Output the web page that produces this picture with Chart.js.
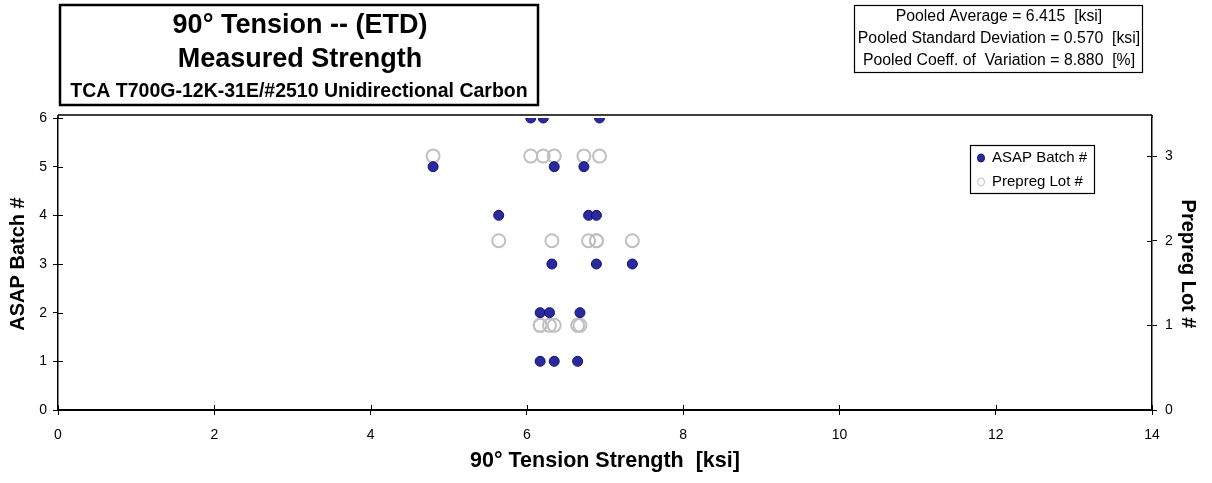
<!DOCTYPE html>
<html>
<head>
<meta charset="utf-8">
<script src="https://cdn.jsdelivr.net/npm/chart.js@4.4.1/dist/chart.umd.min.js"></script>
<style>
    html, body { margin: 0; padding: 0; background: #fff; }
    #wrap { width: 1212px; height: 483px; position: relative; }
</style>
</head>
<body>
<div id="wrap"><canvas id="strengthChart" width="1212" height="483"></canvas></div>
<script>
// ASAP batch data (strength in ksi, batch number)
const batchStrength = [6.17, 6.35, 6.65, 6.17, 6.29, 6.68, 6.32, 6.89, 7.35, 5.64, 6.79, 6.89, 4.80, 6.35, 6.73, 6.05, 6.21, 6.93];
const batchNumber   = [1, 1, 1, 2, 2, 2, 3, 3, 3, 4, 4, 4, 5, 5, 5, 6, 6, 6];

// Prepreg lot data (same specimens, grouped by lot)
const lotStrength = [6.17, 6.35, 6.65, 6.17, 6.29, 6.68, 6.32, 6.89, 7.35, 5.64, 6.79, 6.89, 4.80, 6.35, 6.73, 6.05, 6.21, 6.93];
const lotNumber   = [1, 1, 1, 1, 1, 1, 2, 2, 2, 2, 2, 2, 3, 3, 3, 3, 3, 3];

const xTicks = [0, 2, 4, 6, 8, 10, 12, 14];
const batchTicks = [0, 1, 2, 3, 4, 5, 6];
const lotTicks = [0, 1, 2, 3];

const titleLines = ['90° Tension -- (ETD)', 'Measured Strength', 'TCA T700G-12K-31E/#2510 Unidirectional Carbon'];
const statLines = ['Pooled Average = 6.415  [ksi]', 'Pooled Standard Deviation = 0.570  [ksi]', 'Pooled Coeff. of  Variation = 8.880  [%]'];
const seriesNames = ['ASAP Batch #', 'Prepreg Lot #'];

const FONT = "'Liberation Sans', Arial, sans-serif";
Chart.defaults.font.family = FONT;
Chart.defaults.color = '#000';

const BLUE_FILL = '#2a2a9c';
const BLUE_EDGE = '#10107a';
const GRAY = '#c0c0c0';

// boxes, legend and crossing tick marks
const decorations = {
    id: 'decorations',
    afterDatasetsDraw(chart) {
        const ctx = chart.ctx;
        const area = chart.chartArea;
        ctx.save();

        // top border of the plot area
        ctx.strokeStyle = '#000';
        ctx.lineWidth = 1.5;
        ctx.beginPath();
        ctx.moveTo(area.left, area.top - 3);
        ctx.lineTo(area.right, area.top - 3);
        ctx.moveTo(area.left, area.top - 3);
        ctx.lineTo(area.left, area.top);
        ctx.moveTo(area.right, area.top - 3);
        ctx.lineTo(area.right, area.top);
        ctx.stroke();

        // inner halves of the tick marks
        ctx.lineWidth = 1;
        ctx.beginPath();
        const x = chart.scales.x, y = chart.scales.y, y2 = chart.scales.y2;
        xTicks.forEach(v => {
            const px = Math.round(x.getPixelForValue(v)) + 0.5;
            ctx.moveTo(px, area.bottom);
            ctx.lineTo(px, area.bottom - 5);
        });
        batchTicks.forEach(v => {
            const py = Math.round(y.getPixelForValue(v)) + 0.5;
            ctx.moveTo(area.left, py);
            ctx.lineTo(area.left + 5, py);
        });
        lotTicks.forEach(v => {
            const py = Math.round(y2.getPixelForValue(v)) + 0.5;
            ctx.moveTo(area.right, py);
            ctx.lineTo(area.right - 5, py);
        });
        ctx.stroke();

        // title box
        ctx.fillStyle = '#fff';
        ctx.fillRect(60, 5, 478, 100);
        ctx.lineWidth = 2.5;
        ctx.strokeRect(60, 5, 478, 100);
        ctx.fillStyle = '#000';
        ctx.textAlign = 'center';
        ctx.textBaseline = 'middle';
        ctx.font = 'bold 27px ' + FONT;
        ctx.fillText(titleLines[0], 300, 26);
        ctx.fillText(titleLines[1], 300, 60);
        ctx.font = 'bold 19.5px ' + FONT;
        ctx.fillText(titleLines[2], 299, 92);

        // statistics box
        ctx.lineWidth = 1.2;
        ctx.strokeRect(854.5, 5.5, 288, 67);
        ctx.font = '15.8px ' + FONT;
        ctx.fillText(statLines[0], 999, 17);
        ctx.fillText(statLines[1], 999, 39);
        ctx.fillText(statLines[2], 999, 61);

        // legend box
        ctx.fillStyle = '#fff';
        ctx.fillRect(970.5, 145.5, 124, 48);
        ctx.strokeRect(970.5, 145.5, 124, 48);
        ctx.textAlign = 'left';
        ctx.font = '15px ' + FONT;
        ctx.fillStyle = BLUE_FILL;
        ctx.strokeStyle = BLUE_EDGE;
        ctx.lineWidth = 1;
        ctx.beginPath();
        ctx.ellipse(981, 158, 3.5, 4, 0, 0, Math.PI * 2);
        ctx.fill();
        ctx.stroke();
        ctx.strokeStyle = GRAY;
        ctx.beginPath();
        ctx.ellipse(981, 182, 3.5, 4, 0, 0, Math.PI * 2);
        ctx.stroke();
        ctx.fillStyle = '#000';
        ctx.fillText(seriesNames[0], 992, 158);
        ctx.fillText(seriesNames[1], 992, 182);

        ctx.restore();
    }
};

new Chart(document.getElementById('strengthChart'), {
    type: 'scatter',
    data: {
        datasets: [
            {
                label: seriesNames[1],
                data: lotStrength.map((v, i) => ({ x: v, y: lotNumber[i] })),
                yAxisID: 'y2',
                pointRadius: 6.5,
                pointBackgroundColor: 'rgba(255,255,255,0)',
                pointBorderColor: GRAY,
                pointBorderWidth: 2,
                order: 2
            },
            {
                label: seriesNames[0],
                data: batchStrength.map((v, i) => ({ x: v, y: batchNumber[i] })),
                yAxisID: 'y',
                pointRadius: 5,
                pointBackgroundColor: BLUE_FILL,
                pointBorderColor: BLUE_EDGE,
                pointBorderWidth: 1,
                order: 1
            }
        ]
    },
    options: {
        responsive: false,
        animation: false,
        layout: { padding: { top: 118, left: 0, right: 0, bottom: 0 } },
        plugins: {
            legend: { display: false },
            tooltip: { enabled: false }
        },
        scales: {
            x: {
                type: 'linear',
                min: 0,
                max: 14,
                afterBuildTicks: s => { s.ticks = xTicks.map(v => ({ value: v })); },
                afterFit: s => { s.height = 73; },
                grid: { drawOnChartArea: false, color: '#000', tickLength: 5 },
                border: { color: '#000', width: 2 },
                ticks: { font: { size: 14 }, padding: 12, maxRotation: 0 },
                title: {
                    display: true,
                    text: '90° Tension Strength  [ksi]',
                    font: { size: 21.5, weight: 'bold' },
                    padding: { top: 0, bottom: 9 }
                }
            },
            y: {
                position: 'left',
                min: 0,
                max: 6,
                afterBuildTicks: s => { s.ticks = batchTicks.map(v => ({ value: v })); },
                afterFit: s => { s.width = 58; },
                grid: { drawOnChartArea: false, color: '#000', tickLength: 5 },
                border: { color: '#000', width: 1.5 },
                ticks: { font: { size: 14 }, padding: 6 },
                title: {
                    display: true,
                    text: 'ASAP Batch #',
                    font: { size: 20, weight: 'bold' },
                    padding: { top: 6 }
                }
            },
            y2: {
                position: 'right',
                min: 0,
                max: 3.45,
                afterBuildTicks: s => { s.ticks = lotTicks.map(v => ({ value: v })); },
                afterFit: s => { s.width = 60; },
                grid: { drawOnChartArea: false, color: '#000', tickLength: 5 },
                border: { color: '#000', width: 1.5 },
                ticks: { font: { size: 14 }, padding: 8 },
                title: {
                    display: true,
                    text: 'Prepreg Lot #',
                    font: { size: 20, weight: 'bold' },
                    padding: { top: 12 }
                }
            }
        }
    },
    plugins: [decorations]
});
</script>
</body>
</html>
